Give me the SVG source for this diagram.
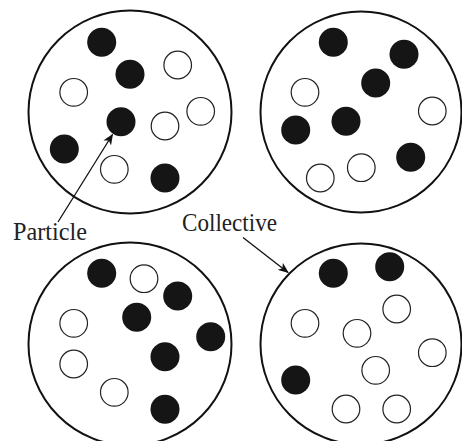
<svg xmlns="http://www.w3.org/2000/svg" width="462" height="441" viewBox="0 0 462 441">
<style>
.big{fill:none;stroke:#111;stroke-width:2}
.b{fill:#151515}
.o{fill:#fff;stroke:#222;stroke-width:1.2}
.lbl{font-family:"Liberation Serif","DejaVu Serif",serif;font-size:25px;fill:#222}
.conn{stroke:#111;stroke-width:1.3;fill:none}
</style>
<defs>
<marker id="ah" markerWidth="11" markerHeight="9" refX="10" refY="4.5" orient="auto" markerUnits="userSpaceOnUse">
<path d="M0,0 L11,4.5 L0,9 L3,4.5 Z" fill="#111"/>
</marker>
</defs>
<rect width="462" height="441" fill="#fff"/>
<g id="group-top-left">
<circle class="big" cx="130" cy="112" r="101.5"/>
<circle class="b" cx="101.7" cy="42.3" r="14.5"/>
<circle class="b" cx="130" cy="74.3" r="14.5"/>
<circle class="o" cx="177.7" cy="65" r="13.8"/>
<circle class="o" cx="73.7" cy="92.3" r="13.8"/>
<circle class="b" cx="121" cy="121.7" r="14.5"/>
<circle class="o" cx="165" cy="126" r="13.8"/>
<circle class="o" cx="200.7" cy="111.3" r="13.8"/>
<circle class="b" cx="64.3" cy="149" r="14.5"/>
<circle class="o" cx="114.3" cy="169.3" r="13.8"/>
<circle class="b" cx="165" cy="178" r="14.5"/>
</g>
<g id="group-top-right">
<circle class="big" cx="361" cy="112" r="100.5"/>
<circle class="b" cx="333.3" cy="42.3" r="14.5"/>
<circle class="b" cx="404" cy="54.3" r="14.5"/>
<circle class="b" cx="375.7" cy="83" r="14.5"/>
<circle class="o" cx="305" cy="92.3" r="13.8"/>
<circle class="o" cx="432.3" cy="111" r="13.8"/>
<circle class="b" cx="295.7" cy="130" r="14.5"/>
<circle class="b" cx="346" cy="121.3" r="14.5"/>
<circle class="b" cx="410.7" cy="157.3" r="14.5"/>
<circle class="o" cx="361.3" cy="167.7" r="13.8"/>
<circle class="o" cx="320.3" cy="178" r="13.8"/>
</g>
<g id="group-bottom-left">
<circle class="big" cx="130" cy="344" r="101.5"/>
<circle class="b" cx="101.7" cy="273.3" r="14.5"/>
<circle class="o" cx="144" cy="278.7" r="13.8"/>
<circle class="b" cx="177.7" cy="296" r="14.5"/>
<circle class="b" cx="136.7" cy="317.3" r="14.5"/>
<circle class="o" cx="73.7" cy="323.3" r="13.8"/>
<circle class="b" cx="210.7" cy="336.7" r="14.5"/>
<circle class="b" cx="165" cy="356.7" r="14.5"/>
<circle class="o" cx="73.7" cy="364" r="13.8"/>
<circle class="o" cx="114.3" cy="392.3" r="13.8"/>
<circle class="b" cx="165" cy="409.3" r="14.5"/>
</g>
<g id="group-bottom-right">
<circle class="big" cx="361" cy="344" r="100.5"/>
<circle class="b" cx="333.3" cy="273.3" r="14.5"/>
<circle class="b" cx="389.7" cy="266.7" r="14.5"/>
<circle class="o" cx="396.7" cy="309" r="13.8"/>
<circle class="o" cx="305" cy="323.3" r="13.8"/>
<circle class="o" cx="357" cy="333.3" r="13.8"/>
<circle class="o" cx="432.3" cy="352.7" r="13.8"/>
<circle class="o" cx="375.7" cy="370.3" r="13.8"/>
<circle class="b" cx="295.7" cy="380" r="14.5"/>
<circle class="o" cx="346" cy="409" r="13.8"/>
<circle class="o" cx="396.7" cy="409" r="13.8"/>
</g>
<g id="label-particle">
<text class="lbl" x="13" y="239.5" textLength="74" lengthAdjust="spacingAndGlyphs">Particle</text>
</g>
<g id="label-collective">
<text class="lbl" x="182" y="231" textLength="95" lengthAdjust="spacingAndGlyphs">Collective</text>
</g>
<g id="connectors">
<line class="conn" x1="58" y1="222" x2="112.5" y2="134.5" marker-end="url(#ah)"/>
<line class="conn" x1="243" y1="237.5" x2="288" y2="272.5" marker-end="url(#ah)"/>
</g>
</svg>
